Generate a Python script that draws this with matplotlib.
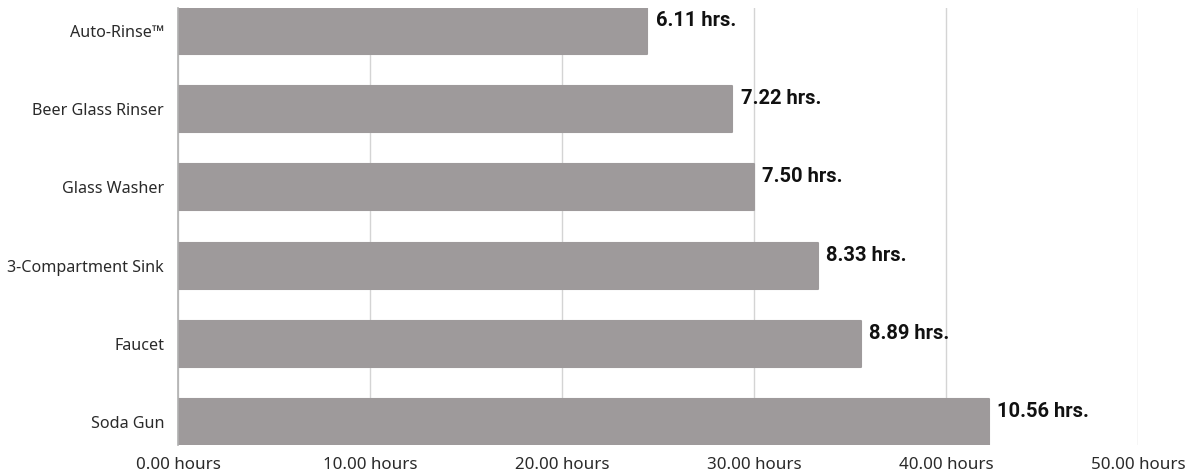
import matplotlib.pyplot as plt
from matplotlib.ticker import FuncFormatter
from matplotlib.transforms import offset_copy

categories = ['Auto-Rinse™', 'Beer Glass Rinser', 'Glass Washer', '3-Compartment Sink', 'Faucet', 'Soda Gun']
values = [24.44, 28.88, 30.0, 33.32, 35.56, 42.24]
value_labels = ['6.11 hrs.', '7.22 hrs.', '7.50 hrs.', '8.33 hrs.', '8.89 hrs.', '10.56 hrs.']
xticks = [0, 10, 20, 30, 40, 50]

bar_color = '#9e9a9b'

fig = plt.figure(figsize=(11.9, 4.72), dpi=100)
ax = fig.add_axes([178 / 1190, 1 - 445 / 472, 960 / 1190, 437 / 472])

h = 0.59
pos = list(range(len(categories)))
ax.barh(pos, values, height=h, color=bar_color, edgecolor=bar_color,
        linewidth=1.5, joinstyle='round', zorder=3)
ax.set_ylim(len(categories) - 1 + h / 2, -h / 2)
ax.set_xlim(0, 50)

ax.set_xticks(xticks)
ax.xaxis.set_major_formatter(FuncFormatter(lambda v, p: f'{v:.2f} hours'))
ax.set_yticks(pos)
ax.set_yticklabels(categories)
ax.tick_params(axis='y', length=0, labelsize=11.6, colors='#2a2a2a', pad=10)
ax.tick_params(axis='x', length=0, labelsize=12.2, colors='#2a2a2a', pad=8.5)
for lab in ax.get_xticklabels() + ax.get_yticklabels():
    lab.set_family('Noto Sans')

ax.grid(axis='x', color='#d4d4d4', linewidth=1, zorder=0)
for s in ['top', 'right', 'bottom']:
    ax.spines[s].set_visible(False)
ax.spines['left'].set_color('#b0b0b0')
ax.spines['left'].set_linewidth(1.2)
ax.spines['left'].set_zorder(4)

trans = offset_copy(ax.transData, fig=fig, x=6, y=7.5, units='points')
for p, v, t in zip(pos, values, value_labels):
    ax.text(v, p, t, transform=trans, ha='left', va='center',
            fontsize=14.5, fontweight='bold', family='Roboto', color='#111111', zorder=5)

fig.savefig('out.png', dpi=100)
